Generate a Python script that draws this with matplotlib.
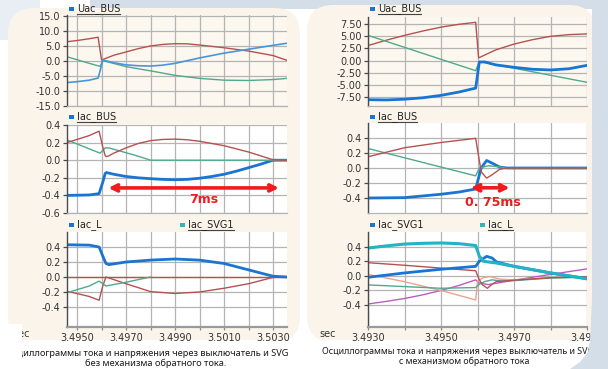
import matplotlib
matplotlib.use('Agg')
import matplotlib.pyplot as plt
from matplotlib.patches import FancyBboxPatch, Rectangle, Polygon
from matplotlib.transforms import IdentityTransform
import matplotlib.lines as mlines

plt.rcParams['axes.unicode_minus'] = False
plt.rcParams['font.family'] = ['DejaVu Sans']

# ---------------- data ----------------
# Left panel (without reverse-current mechanism)
lt_red_t = [3.49459, 3.4950, 3.4955, 3.49586, 3.49600, 3.4965, 3.4970, 3.4975, 3.4980, 3.4985, 3.4990, 3.4995, 3.5000, 3.5010, 3.5020, 3.5030, 3.50357]
lt_red_v = [6.4, 6.8, 7.4, 7.9, 0.3, 1.9, 3.0, 4.1, 5.0, 5.5, 5.75, 5.7, 5.3, 4.4, 3.3, 1.8, 0.2]
lt_blue_t = [3.49459, 3.4950, 3.4955, 3.49586, 3.49595, 3.49605, 3.4965, 3.4970, 3.4975, 3.4980, 3.4985, 3.4990, 3.4995, 3.5000, 3.5010, 3.5020, 3.5030, 3.50357]
lt_blue_v = [-7.2, -6.9, -6.4, -5.7, -3.0, 0.3, -0.6, -1.3, -1.6, -1.7, -1.4, -0.8, 0.1, 1.0, 2.6, 3.9, 5.2, 5.9]
lt_green_t = [3.49459, 3.4955, 3.49594, 3.49605, 3.4970, 3.4980, 3.4990, 3.5000, 3.5010, 3.5020, 3.5030, 3.50357]
lt_green_v = [1.4, -0.8, -1.8, 0.1, -1.9, -3.3, -4.8, -5.8, -6.4, -6.5, -6.2, -5.8]

lm_red_t = [3.49459, 3.4955, 3.49590, 3.49605, 3.49615, 3.4962, 3.4963, 3.4965, 3.4970, 3.4975, 3.4980, 3.4985, 3.4990, 3.4995, 3.5000, 3.5010, 3.5020, 3.5030, 3.50357]
lm_red_v = [0.20, 0.28, 0.33, 0.15, 0.05, 0.04, 0.05, 0.08, 0.14, 0.19, 0.222, 0.236, 0.24, 0.232, 0.215, 0.165, 0.093, 0.005, 0.0]
lm_green_t = [3.49459, 3.49594, 3.49615, 3.4963, 3.4970, 3.4975, 3.4980, 3.50357]
lm_green_v = [0.23, 0.08, 0.14, 0.14, 0.085, 0.045, 0.0, 0.0]
lm_blue_t = [3.49459, 3.4955, 3.49590, 3.49605, 3.49615, 3.4962, 3.4965, 3.4970, 3.4975, 3.4980, 3.4985, 3.4990, 3.4995, 3.5000, 3.5005, 3.5010, 3.5015, 3.5020, 3.5025, 3.5030, 3.50357]
lm_blue_v = [-0.40, -0.395, -0.38, -0.25, -0.15, -0.14, -0.16, -0.185, -0.20, -0.21, -0.218, -0.222, -0.218, -0.205, -0.185, -0.16, -0.125, -0.085, -0.045, 0.0, 0.0]

lb_blue_t = [3.49459, 3.4955, 3.49590, 3.49605, 3.49618, 3.4963, 3.4970, 3.4980, 3.4990, 3.5000, 3.5010, 3.5020, 3.5030, 3.50357]
lb_blue_v = [0.43, 0.425, 0.40, 0.28, 0.18, 0.165, 0.20, 0.225, 0.24, 0.225, 0.18, 0.095, 0.01, 0.0]
lb_zero_t = [3.49459, 3.50357]
lb_zero_v = [0.0, 0.0]
lb_red_t = [3.49459, 3.4955, 3.49590, 3.49605, 3.49618, 3.4970, 3.4980, 3.4990, 3.5000, 3.5010, 3.5020, 3.5030, 3.50357]
lb_red_v = [-0.19, -0.26, -0.31, -0.12, 0.0, -0.09, -0.195, -0.22, -0.20, -0.15, -0.09, -0.005, 0.0]
lb_green_t = [3.49459, 3.4955, 3.49590, 3.49605, 3.49618, 3.4970, 3.4980]
lb_green_v = [-0.21, -0.12, -0.055, -0.09, -0.12, -0.07, 0.0]

# Right panel (with reverse-current mechanism)
rt_red_t = [3.4930, 3.4935, 3.4940, 3.4945, 3.4950, 3.4955, 3.49595, 3.49603, 3.4965, 3.4970, 3.4975, 3.4980, 3.4985, 3.4990]
rt_red_v = [3.1, 4.2, 5.2, 6.1, 6.9, 7.5, 7.9, 0.55, 2.2, 3.4, 4.3, 5.0, 5.35, 5.5]
rt_green_t = [3.4930, 3.49595, 3.49605, 3.4990]
rt_green_v = [5.2, -2.1, -0.2, -4.5]
rt_blue_t = [3.4930, 3.4935, 3.4940, 3.4945, 3.4950, 3.4955, 3.49595, 3.49605, 3.4962, 3.4965, 3.4970, 3.4975, 3.4980, 3.4985, 3.4990]
rt_blue_v = [-8.1, -8.15, -8.0, -7.7, -7.2, -6.5, -5.7, -0.3, -0.3, -0.9, -1.4, -1.8, -1.95, -1.7, -1.0]

rm_red_t = [3.4930, 3.4940, 3.4950, 3.49595, 3.49605, 3.4961, 3.49625, 3.4964, 3.4966, 3.4968, 3.4990]
rm_red_v = [0.15, 0.27, 0.34, 0.395, 0.1, -0.05, -0.135, -0.09, -0.02, 0.0, 0.0]
rm_green_t = [3.4930, 3.49595, 3.49605, 3.4963, 3.4966, 3.4968, 3.4990]
rm_green_v = [0.26, -0.105, 0.0, 0.03, 0.015, 0.0, 0.0]
rm_blue_t = [3.4930, 3.4940, 3.4950, 3.4955, 3.49595, 3.4961, 3.49625, 3.4964, 3.4966, 3.4968, 3.4990]
rm_blue_v = [-0.40, -0.395, -0.35, -0.32, -0.28, 0.0, 0.10, 0.065, 0.014, 0.0, 0.0]

rb_cyan_t = [3.4930, 3.4935, 3.4940, 3.4945, 3.4950, 3.4955, 3.49595, 3.49605, 3.49616, 3.4963, 3.49652, 3.4970, 3.4975, 3.4980, 3.4985, 3.4990]
rb_cyan_v = [0.38, 0.41, 0.435, 0.445, 0.45, 0.44, 0.415, 0.27, 0.2, 0.19, 0.175, 0.13, 0.085, 0.04, 0.0, -0.04]
rb_blue_t = [3.4930, 3.4940, 3.4950, 3.49595, 3.49605, 3.49625, 3.4964, 3.49652, 3.4970, 3.4975, 3.4980, 3.4985, 3.4990]
rb_blue_v = [-0.02, 0.04, 0.09, 0.13, 0.2, 0.267, 0.244, 0.19, 0.13, 0.085, 0.04, 0.0, -0.04]
rb_red_t = [3.4930, 3.4940, 3.4950, 3.49595, 3.49605, 3.49614, 3.49627, 3.4964, 3.49652, 3.4970, 3.4980, 3.4990]
rb_red_v = [0.18, 0.145, 0.106, 0.07, -0.055, -0.124, -0.17, -0.115, -0.078, -0.06, -0.025, -0.015]
rb_salmon_t = [3.4930, 3.4940, 3.4950, 3.49595, 3.49600, 3.49616, 3.49634, 3.49662, 3.4970, 3.4980, 3.4990]
rb_salmon_v = [0.02, -0.08, -0.2, -0.33, -0.078, -0.023, -0.01, -0.046, -0.055, -0.023, -0.01]
rb_green_t = [3.4930, 3.4940, 3.4950, 3.49595, 3.49605, 3.4962, 3.4964, 3.49665, 3.4970, 3.4980, 3.4990]
rb_green_v = [-0.124, -0.147, -0.17, -0.16, -0.115, -0.078, -0.055, -0.07, -0.065, -0.03, -0.02]
rb_purple_t = [3.4930, 3.4935, 3.4940, 3.4945, 3.4950, 3.4955, 3.49595, 3.49605, 3.4963, 3.4970, 3.4980, 3.4990]
rb_purple_v = [-0.385, -0.35, -0.31, -0.26, -0.2, -0.13, -0.055, -0.1, -0.12, -0.06, 0.02, 0.095]

left_xticks = [3.4950, 3.4960, 3.4970, 3.4980, 3.4990, 3.5000, 3.5010, 3.5020, 3.5030]
left_xlabels = ['3.4950', '', '3.4970', '', '3.4990', '', '3.5010', '', '3.5030']
right_xticks = [3.4930, 3.4940, 3.4950, 3.4960, 3.4970, 3.4980, 3.4990]
right_xlabels = ['3.4930', '', '3.4950', '', '3.4970', '', '3.4990']

caption_left = ['Осциллограммы тока и напряжения через выключатель и SVG', 'без механизма обратного тока.']
caption_right = ['Осциллограммы тока и напряжения через выключатель и SVG', 'с механизмом обратного тока']

# ---------------- style ----------------
RED = '#b5524f'
GREEN = '#4fa98c'
BLUE = '#1a74d4'
BLUE_THIN = '#4596dc'
CYAN = '#22b3c6'
TEAL_SQ = '#2bb8b8'
SALMON = '#e9a38f'
PURPLE = '#bb5cc4'
ARROW = '#ee1c1c'
CREAM = '#fbf4ea'
TOPBG = '#fdf8ef'
GRID = '#b4b4b4'
BGBLUE = '#d3dee8'

W, H = 608, 369
fig = plt.figure(figsize=(W / 100, H / 100), dpi=100)
fig.patch.set_facecolor('white')


def disp(x, y):
    return (x, H - y)


def fx(x):
    return x / W


def fy(y):
    return 1 - y / H


ID = IdentityTransform()
# background decoration (pixel coordinates)
fig.patches.append(Rectangle(disp(0, 40), 40, 40, transform=ID, facecolor='#e8eef3',
                             edgecolor='none', zorder=-20))
fig.patches.append(Rectangle(disp(90, 9), W - 90, 9, transform=ID, facecolor=BGBLUE,
                             edgecolor='none', zorder=-20))
fig.patches.append(FancyBboxPatch(disp(8, 342), 292, 334,
                                  boxstyle='round,pad=0,rounding_size=26',
                                  transform=ID, facecolor=CREAM, edgecolor='none', zorder=-10))
fig.patches.append(FancyBboxPatch(disp(307, 342), 288, 337,
                                  boxstyle='round,pad=0,rounding_size=26',
                                  transform=ID, facecolor=CREAM, edgecolor='none', zorder=-10))
fig.patches.append(Rectangle(disp(0, 369), W, 29, transform=ID, facecolor='white',
                             edgecolor='none', zorder=-9))
# right edge overlay (covers the cut-off end of labels like in the reference)
right_poly = [disp(592, 0), disp(592, 300), disp(590, 340), disp(588, 352),
              disp(580, 362), disp(570, 369), disp(608, 369), disp(608, 0)]
fig.patches.append(Polygon(right_poly, closed=True, transform=ID,
                           facecolor=BGBLUE, edgecolor='none', zorder=10))
# left edge cover for the cut-off caption start and 'sec' label
fig.patches.append(Rectangle(disp(0, 369), 21.5, 45, transform=ID, facecolor='white',
                             edgecolor='none', zorder=10))


def add_ax(x0, y0, x1, y1, bg, xlim, ylim, yticks, yfmt, xticks, xlabels, bottom):
    ax = fig.add_axes([x0 / W, 1 - y1 / H, (x1 - x0) / W, (y1 - y0) / H])
    ax.set_facecolor(bg)
    ax.set_xlim(*xlim)
    ax.set_ylim(*ylim)
    ax.set_yticks(yticks)
    ax.set_yticklabels([yfmt % v for v in yticks])
    ax.set_xticks(xticks)
    for s in ['top', 'right']:
        ax.spines[s].set_visible(False)
    ax.spines['left'].set_color('#4a4a4a')
    ax.spines['left'].set_linewidth(1.0)
    ax.grid(True, color=GRID, lw=0.9)
    ax.set_axisbelow(True)
    ax.tick_params(axis='y', labelsize=7, labelcolor='#333333', length=3, width=0.9,
                   color='#4a4a4a', pad=1.5)
    if bottom:
        ax.set_xticklabels(xlabels)
        ax.spines['bottom'].set_color('#9a9a9a')
        ax.spines['bottom'].set_linewidth(1.6)
        ax.tick_params(axis='x', labelsize=7, labelcolor='#333333', length=2.5,
                       width=0.9, color='#8a8a8a', pad=1.5)
    else:
        ax.set_xticklabels([])
        ax.spines['bottom'].set_color(GRID)
        ax.spines['bottom'].set_linewidth(0.9)
        ax.tick_params(axis='x', length=0)
    return ax


LX = (3.49459, 3.50357)
RX = (3.4930, 3.4990)

# ---- left panel ----
ax = add_ax(67, 15, 287, 106, TOPBG, LX, (-15.0, 15.3), [-15, -10, -5, 0, 5, 10, 15], '%.1f',
            left_xticks, left_xlabels, False)
ax.plot(lt_red_t, lt_red_v, color=RED, lw=1.0)
ax.plot(lt_green_t, lt_green_v, color=GREEN, lw=1.0)
ax.plot(lt_blue_t, lt_blue_v, color=BLUE_THIN, lw=1.2)

ax = add_ax(67, 125, 287, 213, 'white', LX, (-0.6, 0.4), [-0.6, -0.4, -0.2, 0.0, 0.2, 0.4], '%.1f',
            left_xticks, left_xlabels, False)
ax.plot(lm_blue_t, lm_blue_v, color=BLUE, lw=2.0)
ax.plot(lm_green_t, lm_green_v, color=GREEN, lw=1.0)
ax.plot(lm_red_t, lm_red_v, color=RED, lw=1.0)
ax.annotate('', xy=(3.50324, -0.315), xytext=(3.49628, -0.315),
            arrowprops=dict(arrowstyle='<->', color=ARROW, lw=2.6, mutation_scale=11,
                            shrinkA=0, shrinkB=0))
ax.text(3.50017, -0.445, '7ms', color=ARROW, fontsize=9, fontweight='bold',
        ha='center', va='center')

ax = add_ax(67, 232, 287, 327, 'white', LX, (-0.667, 0.6), [-0.4, -0.2, 0.0, 0.2, 0.4], '%.1f',
            left_xticks, left_xlabels, True)
ax.plot(lb_zero_t, lb_zero_v, color=RED, lw=1.0)
ax.plot(lb_red_t, lb_red_v, color=RED, lw=1.0)
ax.plot(lb_green_t, lb_green_v, color=GREEN, lw=1.0)
ax.plot(lb_blue_t, lb_blue_v, color=BLUE, lw=2.0)

# ---- right panel ----
ax = add_ax(368, 17, 587, 106, TOPBG, RX, (-9.4, 9.0), [-7.5, -5.0, -2.5, 0.0, 2.5, 5.0, 7.5], '%.2f',
            right_xticks, right_xlabels, False)
ax.plot(rt_red_t, rt_red_v, color=RED, lw=1.0)
ax.plot(rt_green_t, rt_green_v, color=GREEN, lw=1.0)
ax.plot(rt_blue_t, rt_blue_v, color=BLUE, lw=2.0)

ax = add_ax(368, 123, 587, 213, 'white', RX, (-0.6, 0.6), [-0.4, -0.2, 0.0, 0.2, 0.4], '%.1f',
            right_xticks, right_xlabels, False)
ax.plot(rm_blue_t, rm_blue_v, color=BLUE, lw=2.0)
ax.plot(rm_green_t, rm_green_v, color=GREEN, lw=1.0)
ax.plot(rm_red_t, rm_red_v, color=RED, lw=1.0)
ax.annotate('', xy=(3.49688, -0.264), xytext=(3.49581, -0.264),
            arrowprops=dict(arrowstyle='<->', color=ARROW, lw=2.6, mutation_scale=11,
                            shrinkA=0, shrinkB=0))
ax.text(3.49642, -0.465, '0. 75ms', color=ARROW, fontsize=9, fontweight='bold',
        ha='center', va='center')

ax = add_ax(368, 232, 587, 327, 'white', RX, (-0.7, 0.6), [-0.4, -0.2, 0.0, 0.2, 0.4], '%.1f',
            right_xticks, right_xlabels, True)
ax.plot(rb_purple_t, rb_purple_v, color=PURPLE, lw=1.0)
ax.plot(rb_salmon_t, rb_salmon_v, color=SALMON, lw=1.0)
ax.plot(rb_green_t, rb_green_v, color=GREEN, lw=1.0)
ax.plot(rb_red_t, rb_red_v, color=RED, lw=1.0)
ax.plot(rb_blue_t, rb_blue_v, color=BLUE, lw=2.0)
ax.plot(rb_cyan_t, rb_cyan_v, color=CYAN, lw=2.2)

# ---- legends (squares + labels, some underlined) ----
renderer = fig.canvas.get_renderer()


def legend(x, y, label, color, underline):
    fig.patches.append(Rectangle(disp(x, y + 2), 5, 4, transform=ID,
                                 facecolor=color, edgecolor='none', zorder=3))
    t = fig.text(fx(x + 8), fy(y), label, fontsize=7, color='#222222', ha='left', va='center')
    if underline:
        bb = t.get_window_extent(renderer)
        fig.lines.append(mlines.Line2D([bb.x0, bb.x1], [bb.y0 + 0.5, bb.y0 + 0.5],
                                       transform=ID, color='#444444', lw=0.8))


legend(69, 9, 'Uac_BUS', BLUE, True)
legend(69, 117, 'Iac_BUS', BLUE, True)
legend(69, 225, 'Iac_L', BLUE, False)
legend(180, 225, 'Iac_SVG1', TEAL_SQ, True)
legend(370, 9, 'Uac_BUS', BLUE, True)
legend(370, 117, 'Iac_BUS', BLUE, True)
legend(370, 225, 'Iac_SVG1', BLUE, False)
legend(480, 225, 'Iac_L', TEAL_SQ, True)

# 'sec' axis unit labels
fig.text(fx(30), fy(334), 'sec', fontsize=7, color='#333333', ha='right', va='center')
fig.text(fx(328), fy(334), 'sec', fontsize=7, color='#333333', ha='center', va='center')


# ---- captions: font size fitted to the visible widths in the reference ----
CAP_FAMILY = ['Noto Sans', 'DejaVu Sans']


def fitted_size(text, target_px):
    probe = fig.text(0, 0, text, fontsize=10, fontweight='bold', family=CAP_FAMILY)
    w = probe.get_window_extent(renderer).width
    probe.remove()
    return 10 * target_px / w


size_l = fitted_size('иллограммы тока и напряжения через выключатель и SVG', 265)
size_r = fitted_size('Осциллограммы тока и напряжения через выключатель и SV', 265)

fig.text(fx(288), fy(353), caption_left[0], fontsize=size_l, fontweight='bold',
         family=CAP_FAMILY, color='#1a1a1a', ha='right', va='center')
fig.text(fx(156), fy(363), caption_left[1], fontsize=size_l, fontweight='bold',
         family=CAP_FAMILY, color='#1a1a1a', ha='center', va='center')
fig.text(fx(322), fy(351), caption_right[0], fontsize=size_r, fontweight='bold',
         family=CAP_FAMILY, color='#1a1a1a', ha='left', va='center')
fig.text(fx(464), fy(361), caption_right[1], fontsize=size_r, fontweight='bold',
         family=CAP_FAMILY, color='#1a1a1a', ha='center', va='center')

fig.savefig('out.png', dpi=100, facecolor=fig.get_facecolor())
